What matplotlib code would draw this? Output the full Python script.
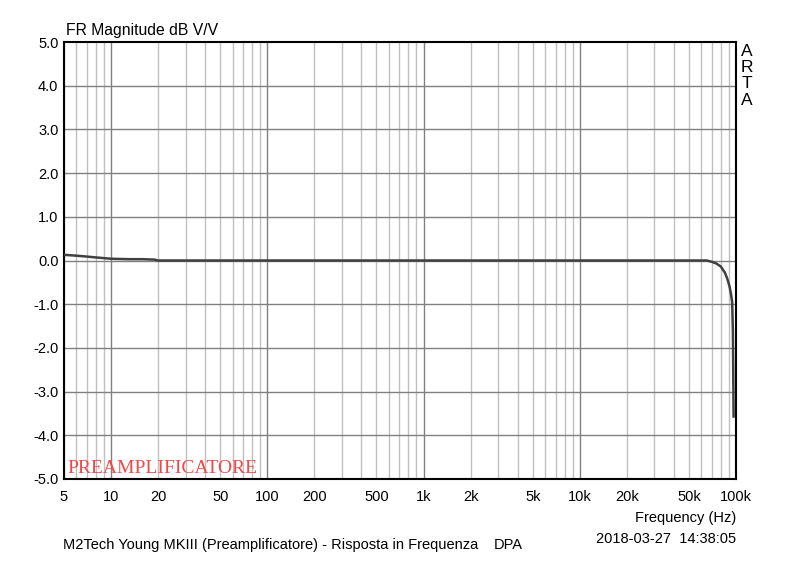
import numpy as np
import matplotlib
matplotlib.use("Agg")
import matplotlib.pyplot as plt
from matplotlib.ticker import FixedLocator, NullFormatter

# Data
freq_hz = [5, 6, 7, 8, 10, 13, 16, 19, 20, 50, 100, 1000, 10000, 50000, 65000,
           70000, 75000, 80000, 85000, 88000, 91000, 93000, 94500, 95500, 96000, 96500]
mag_db = [0.13, 0.11, 0.09, 0.07, 0.04, 0.03, 0.03, 0.02, 0.0, 0.0, 0.0, 0.0, 0.0, 0.0, 0.0,
          -0.03, -0.07, -0.14, -0.28, -0.42, -0.6, -0.78, -0.95, -1.6, -2.5, -3.57]

xtick_vals = [5, 10, 20, 50, 100, 200, 500, 1000, 2000, 5000, 10000, 20000, 50000, 100000]
xtick_labels = ["5", "10", "20", "50", "100", "200", "500", "1k", "2k", "5k", "10k", "20k", "50k", "100k"]
ytick_vals = [-5, -4, -3, -2, -1, 0, 1, 2, 3, 4, 5]
ytick_labels = ["-5.0", "-4.0", "-3.0", "-2.0", "-1.0", "0.0", "1.0", "2.0", "3.0", "4.0", "5.0"]

plt.rcParams['font.family'] = ['Liberation Sans', 'DejaVu Sans']

fig = plt.figure(figsize=(8, 5.85), dpi=100)
ax = fig.add_axes([64/800, 1-479/585, (736-64)/800, (479-42)/585])
ax.set_xscale('log')
ax.set_xlim(5, 100000)
ax.set_ylim(-5, 5)

# grid
minor = []
for dec in [1, 10, 100, 1000, 10000]:
    for m in range(2, 10):
        v = m * dec
        if 5 <= v < 100000:
            minor.append(v)
for v in minor:
    ax.axvline(v, color='#c0c0c0', lw=1.0, zorder=1)
for v in [10, 100, 1000, 10000]:
    ax.axvline(v, color='#808080', lw=1.0, zorder=1)
for v in ytick_vals[1:-1]:
    ax.axhline(v, color='#808080', lw=1.0, zorder=1)

ax.plot(freq_hz, mag_db, color='#404040', lw=1.8, zorder=3, solid_joinstyle='miter')

ax.xaxis.set_major_locator(FixedLocator(xtick_vals))
ax.set_xticklabels(xtick_labels)
ax.xaxis.set_minor_formatter(NullFormatter())
ax.tick_params(axis='x', which='minor', length=0)
ax.set_yticks(ytick_vals)
ax.set_yticklabels(ytick_labels)
ax.tick_params(axis='both', which='major', length=0, labelsize=10.5, colors='black')
ax.tick_params(axis='x', pad=8)
ax.tick_params(axis='y', pad=4)
for s in ax.spines.values():
    s.set_linewidth(1.5)
    s.set_color('black')

fig.text(66/800, 1-31/585, "FR Magnitude dB V/V", fontsize=11.3, va='center', ha='left')
for i, ch in enumerate("ARTA"):
    fig.text(747/800, 1-(51+16.5*i)/585, ch, fontsize=12.5, va='center', ha='center')
ax.text(0.005, 0.005, "PREAMPLIFICATORE", transform=ax.transAxes, fontsize=14,
        color='#f04848', family=['Liberation Serif', 'DejaVu Serif'], ha='left', va='bottom')
fig.text(736/800, 1-518/585, "Frequency (Hz)", fontsize=10.5, ha='right', va='center')
fig.text(63/800, 1-545/585, "M2Tech Young MKIII (Preamplificatore) - Risposta in Frequenza", fontsize=10.5,
         ha='left', va='center')
fig.text(494/800, 1-545/585, "DPA", fontsize=10.5, ha='left', va='center')
fig.text(736/800, 1-539/585, "2018-03-27  14:38:05", fontsize=10.5, ha='right', va='center')

fig.savefig("out.png", dpi=100, facecolor='white')
